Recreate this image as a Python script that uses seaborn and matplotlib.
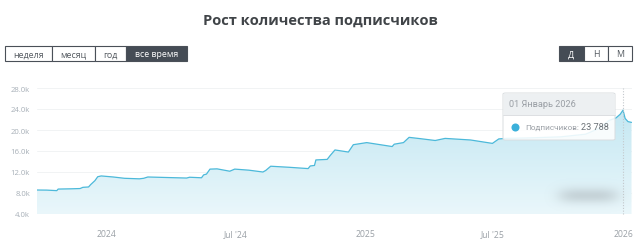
import numpy as np
import pandas as pd
import matplotlib
matplotlib.use("Agg")
import matplotlib.pyplot as plt
import matplotlib.dates as mdates
from matplotlib.patches import Rectangle, FancyBboxPatch
from matplotlib.ticker import FuncFormatter, FixedLocator
import seaborn as sns

# ---------------- data ----------------
dates = [
    "2023-09-24", "2023-10-08", "2023-10-22", "2023-10-24", "2023-11-12",
    "2023-11-24", "2023-11-28", "2023-12-06", "2023-12-09", "2023-12-15",
    "2023-12-19", "2023-12-24", "2024-01-10", "2024-01-26", "2024-02-16",
    "2024-02-22", "2024-02-28", "2024-03-26", "2024-04-23", "2024-04-27",
    "2024-05-14", "2024-05-17", "2024-05-21", "2024-05-26", "2024-06-05",
    "2024-06-23", "2024-06-30", "2024-07-20", "2024-08-09", "2024-08-13",
    "2024-08-20", "2024-09-15", "2024-10-12", "2024-10-15", "2024-10-21",
    "2024-10-23", "2024-11-08", "2024-11-12", "2024-11-19", "2024-12-08",
    "2024-12-15", "2025-01-03", "2025-02-08", "2025-02-11", "2025-02-24",
    "2025-03-04", "2025-03-20", "2025-04-10", "2025-04-24", "2025-05-30",
    "2025-06-30", "2025-07-09", "2025-07-19", "2025-08-23", "2025-10-05",
    "2025-11-09", "2025-11-28", "2025-12-12", "2025-12-22", "2025-12-28",
    "2026-01-01", "2026-01-04", "2026-01-08", "2026-01-13",
]
subscribers = [
    8570, 8550, 8450, 8750, 8800,
    8850, 9080, 9150, 9600, 10350,
    11100, 11250, 11050, 10800, 10700,
    10800, 11050, 10950, 10850, 11000,
    10900, 11450, 11600, 12550, 12600,
    12150, 12550, 12350, 12000, 12300,
    13100, 12900, 12650, 13150, 13250,
    14300, 14400, 15100, 16200, 15800,
    17200, 17600, 16850, 17300, 17600,
    18600, 18350, 18000, 18400, 18100,
    17450, 18300, 18400, 18500, 18700,
    19200, 20300, 21800, 22300, 23000,
    23788, 22200, 21600, 21450,
]
y_ticks = [4000, 8000, 12000, 16000, 20000, 24000, 28000]
x_ticks = ["2024-01-01", "2024-07-01", "2025-01-01", "2025-07-01", "2026-01-01"]
x_tick_labels = ["2024", "Jul '24", "2025", "Jul '25", "2026"]
title = "Рост количества подписчиков"
period_buttons = ["неделя", "месяц", "год", "все время"]
scale_buttons = ["Д", "Н", "М"]
tooltip_date = "01 Январь 2026"
tooltip_label = "Подписчиков:"
tooltip_value = "23 788"

df = pd.DataFrame({"date": pd.to_datetime(dates), "subs": subscribers})

# ---------------- figure ----------------
sns.set_theme(style="white")
plt.rcParams["font.family"] = ["Open Sans", "DejaVu Sans"]

W, H = 640, 253
fig = plt.figure(figsize=(W / 100, H / 100), dpi=100)
fig.patch.set_facecolor("white")

def fx(x):
    return x / W

def fy(y):
    return 1 - y / H

L, R, T, B = 37, 631.5, 89, 215
ax = fig.add_axes([fx(L), fy(B), (R - L) / W, (B - T) / H])
ax.set_facecolor("white")

line_color = "#4cb9da"
x0 = mdates.date2num(df["date"].iloc[0])
x1 = mdates.date2num(df["date"].iloc[-1])
ax.set_xlim(x0, x1)
ax.set_ylim(4000, 28000)

# gradient fill under the line
poly = ax.fill_between(df["date"], df["subs"], 4000, color="none", lw=0)
grad = np.linspace(0, 1, 256).reshape(-1, 1)
top_c = np.array(matplotlib.colors.to_rgb("#c3e7f2"))
bot_c = np.array(matplotlib.colors.to_rgb("#eaf7fb"))
img = top_c[None, None, :] * (1 - grad[:, :, None]) + bot_c[None, None, :] * grad[:, :, None]
im = ax.imshow(img, extent=[x0, x1, 4000, 24500], aspect="auto", origin="upper", zorder=1)
clip = poly.get_paths()[0]
im.set_clip_path(clip, transform=ax.transData)

sns.lineplot(data=df, x="date", y="subs", ax=ax, color=line_color, linewidth=0.9, zorder=3)

# grid
for yt in y_ticks:
    ax.axhline(yt, color="#f1f3f4", lw=0.7, zorder=0.5)

ax.yaxis.set_major_locator(FixedLocator(y_ticks))
ax.yaxis.set_major_formatter(FuncFormatter(lambda v, p: f"{v/1000:.1f}k"))
ax.tick_params(axis="y", labelsize=5.6, labelcolor="#a8b0b8", length=0, pad=5)
xt = mdates.date2num(pd.to_datetime(x_ticks))
ax.set_xticks(xt)
ax.set_xticklabels(x_tick_labels)
ax.tick_params(axis="x", labelsize=6.2, labelcolor="#9aa0a6", length=4, width=0.6,
               color="#d8dcdf", pad=7, direction="out")
ax.set_xlabel("")
ax.set_ylabel("")
for s in ax.spines.values():
    s.set_visible(False)

# vertical dotted crosshair at the hovered date
hx = mdates.date2num(pd.Timestamp("2026-01-01"))
ax.axvline(hx, ymin=0, ymax=1, color="#c4c8cc", lw=0.8, ls=(0, (1, 1.5)), zorder=4, clip_on=False)

# blurred watermark blob
yy, xx = np.mgrid[0:40, 0:90]
g = np.exp(-(((xx - 45) / 30.0) ** 4 + ((yy - 20) / 8.0) ** 2))
blob = np.zeros((40, 90, 4))
blob[..., :3] = matplotlib.colors.to_rgb("#a9b3b8")
blob[..., 3] = 0.5 * g
bax = fig.add_axes([fx(543), fy(216), 90 / W, 40 / H])
bax.imshow(blob, aspect="auto", interpolation="bilinear")
bax.axis("off")

# ---------------- tooltip ----------------
tx0, tx1, ty0, ty1 = 503, 615, 94, 141
tip = FancyBboxPatch((fx(tx0), fy(ty1)), fx(tx1 - tx0), (ty1 - ty0) / H,
                     boxstyle="round,pad=0,rounding_size=0.004",
                     transform=fig.transFigure, facecolor=(1, 1, 1, 0.88),
                     edgecolor="#d9dde0", lw=0.7, zorder=10)
fig.patches.append(tip)
hdr = Rectangle((fx(tx0 + 0.5), fy(116)), fx(tx1 - tx0 - 1), (116 - ty0 - 0.5) / H,
                transform=fig.transFigure, facecolor=(0.93, 0.94, 0.95, 0.95),
                edgecolor="none", zorder=11)
fig.patches.append(hdr)
fig.add_artist(plt.Line2D([fx(tx0), fx(tx1)], [fy(116), fy(116)], transform=fig.transFigure,
                          color="#dcdfe2", lw=0.7, zorder=12))
tipfont = ["Roboto", "DejaVu Sans"]
fig.text(fx(509), fy(104.5), tooltip_date, fontsize=6.6, color="#9a9fa5", va="center", ha="left",
         zorder=13, family=tipfont)
fig.add_artist(plt.Line2D([fx(515)], [fy(128)], transform=fig.transFigure, marker="o",
                          markersize=5.8, markerfacecolor="#3bb0da", markeredgecolor="none",
                          linestyle="none", zorder=13))
fig.text(fx(525), fy(128), tooltip_label, fontsize=5.9, color="#9a9fa5", va="center", ha="left",
         zorder=13, family=tipfont)
fig.text(fx(609), fy(128), tooltip_value, fontsize=6.6, color="#6b7176", va="center", ha="right",
         zorder=13, family=tipfont)

# ---------------- title ----------------
fig.text(0.5, fy(21), title, fontsize=10.5, fontweight="bold", color="#404448", ha="center", va="center")

# ---------------- buttons ----------------
def buttons(edges, labels, active, y0=47, y1=62):
    for i, lab in enumerate(labels):
        a, b = edges[i], edges[i + 1]
        on = i == active
        fig.patches.append(Rectangle((fx(a), fy(y1)), fx(b - a), (y1 - y0) / H,
                                     transform=fig.transFigure,
                                     facecolor="#454c55" if on else "white",
                                     edgecolor="#4a5058", lw=0.8))
        fig.text(fx((a + b) / 2), fy((y0 + y1) / 2 + 0.3), lab, fontsize=6.4,
                 color="white" if on else "#555b61", ha="center", va="center")

buttons([4.5, 52, 95, 126, 187], period_buttons, 3)
buttons([559, 584, 608, 632], scale_buttons, 0)

fig.savefig("out.png", dpi=100, facecolor="white")
